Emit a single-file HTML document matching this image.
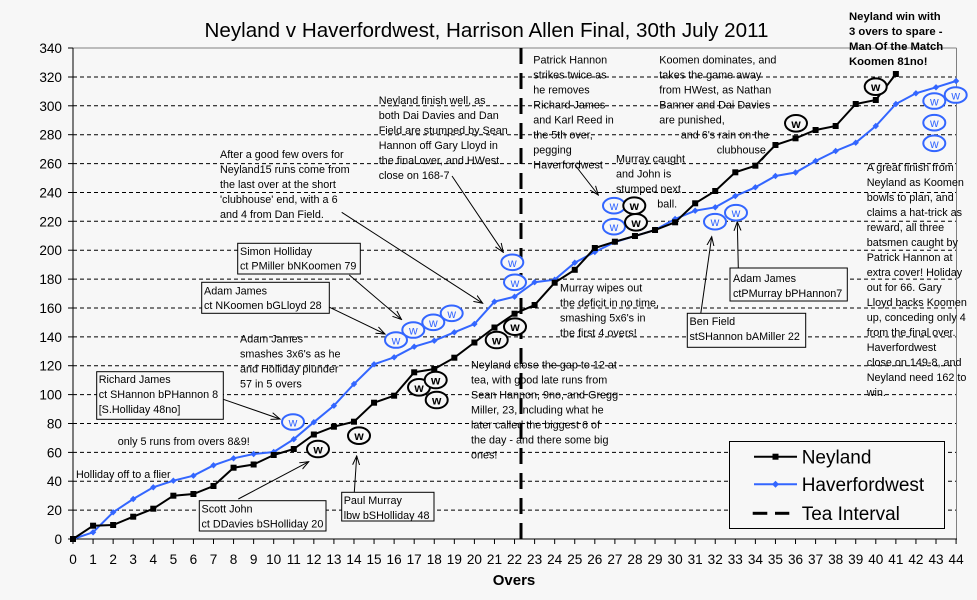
<!DOCTYPE html>
<html><head><meta charset="utf-8">
<style>
html,body{margin:0;padding:0;background:#f7f7f7;}
svg{display:block;font-family:"Liberation Sans",Arial,sans-serif;}
.a{font-size:10.8px;fill:#000;}
.t{font-size:13.6px;fill:#000;}
</style></head><body>
<svg width="977" height="600" viewBox="0 0 977 600" xmlns="http://www.w3.org/2000/svg">
<defs>
<marker id="sq" markerWidth="8" markerHeight="8" refX="4" refY="4" markerUnits="userSpaceOnUse"><rect x="1" y="1" width="6" height="6" fill="#000"/></marker>
<marker id="dm" markerWidth="8" markerHeight="8" refX="4" refY="4" markerUnits="userSpaceOnUse"><path d="M4,0.8 L7.2,4 L4,7.2 L0.8,4Z" fill="#3366ff"/></marker>
<marker id="ar" markerWidth="10" markerHeight="10" refX="9" refY="5" orient="auto" markerUnits="userSpaceOnUse"><path d="M0,1.5 L9,5 L0,8.5" fill="none" stroke="#000" stroke-width="1"/></marker>
</defs>
<rect width="977" height="600" fill="#f7f7f7"/>
<!-- title -->
<text x="486.5" y="37" font-size="20.6" text-anchor="middle">Neyland v Haverfordwest, Harrison Allen Final, 30th July 2011</text>
<!-- gridlines -->
<g stroke="#000" stroke-width="1" stroke-dasharray="4 3">
<line x1="73" y1="510.1" x2="956" y2="510.1"/>
<line x1="73" y1="481.2" x2="956" y2="481.2"/>
<line x1="73" y1="452.4" x2="956" y2="452.4"/>
<line x1="73" y1="423.5" x2="956" y2="423.5"/>
<line x1="73" y1="394.6" x2="956" y2="394.6"/>
<line x1="73" y1="365.7" x2="956" y2="365.7"/>
<line x1="73" y1="336.9" x2="956" y2="336.9"/>
<line x1="73" y1="308" x2="956" y2="308"/>
<line x1="73" y1="279.1" x2="956" y2="279.1"/>
<line x1="73" y1="250.2" x2="956" y2="250.2"/>
<line x1="73" y1="221.3" x2="956" y2="221.3"/>
<line x1="73" y1="192.5" x2="956" y2="192.5"/>
<line x1="73" y1="163.6" x2="956" y2="163.6"/>
<line x1="73" y1="134.7" x2="956" y2="134.7"/>
<line x1="73" y1="105.8" x2="956" y2="105.8"/>
<line x1="73" y1="77" x2="956" y2="77"/>
</g>
<!-- plot border -->
<line x1="73" y1="48" x2="956.5" y2="48" stroke="#808080" stroke-width="1"/>
<line x1="956.5" y1="48" x2="956.5" y2="539" stroke="#808080" stroke-width="1"/>
<!-- axes -->
<line x1="73" y1="48" x2="73" y2="539.5" stroke="#000" stroke-width="1"/>
<line x1="73" y1="539" x2="957" y2="539" stroke="#000" stroke-width="1"/>
<!-- y ticks -->
<g stroke="#000" stroke-width="1">
<line x1="68" y1="539" x2="73" y2="539"/><line x1="68" y1="510.1" x2="73" y2="510.1"/><line x1="68" y1="481.2" x2="73" y2="481.2"/><line x1="68" y1="452.4" x2="73" y2="452.4"/><line x1="68" y1="423.5" x2="73" y2="423.5"/><line x1="68" y1="394.6" x2="73" y2="394.6"/><line x1="68" y1="365.7" x2="73" y2="365.7"/><line x1="68" y1="336.9" x2="73" y2="336.9"/><line x1="68" y1="308" x2="73" y2="308"/><line x1="68" y1="279.1" x2="73" y2="279.1"/><line x1="68" y1="250.2" x2="73" y2="250.2"/><line x1="68" y1="221.3" x2="73" y2="221.3"/><line x1="68" y1="192.5" x2="73" y2="192.5"/><line x1="68" y1="163.6" x2="73" y2="163.6"/><line x1="68" y1="134.7" x2="73" y2="134.7"/><line x1="68" y1="105.8" x2="73" y2="105.8"/><line x1="68" y1="77" x2="73" y2="77"/><line x1="68" y1="48" x2="73" y2="48"/>
</g>
<g class="t" text-anchor="end">
<text x="62" y="544">0</text><text x="62" y="515.1">20</text><text x="62" y="486.2">40</text><text x="62" y="457.4">60</text><text x="62" y="428.5">80</text><text x="62" y="399.6">100</text><text x="62" y="370.7">120</text><text x="62" y="341.9">140</text><text x="62" y="313">160</text><text x="62" y="284.1">180</text><text x="62" y="255.2">200</text><text x="62" y="226.3">220</text><text x="62" y="197.5">240</text><text x="62" y="168.6">260</text><text x="62" y="139.7">280</text><text x="62" y="110.8">300</text><text x="62" y="82">320</text><text x="62" y="53">340</text>
</g>
<!-- x ticks -->
<g stroke="#000" stroke-width="1">
<line x1="73" y1="539" x2="73" y2="544"/><line x1="93.07" y1="539" x2="93.07" y2="544"/><line x1="113.14" y1="539" x2="113.14" y2="544"/><line x1="133.21" y1="539" x2="133.21" y2="544"/><line x1="153.28" y1="539" x2="153.28" y2="544"/><line x1="173.35" y1="539" x2="173.35" y2="544"/><line x1="193.42" y1="539" x2="193.42" y2="544"/><line x1="213.49" y1="539" x2="213.49" y2="544"/><line x1="233.56" y1="539" x2="233.56" y2="544"/><line x1="253.63" y1="539" x2="253.63" y2="544"/><line x1="273.7" y1="539" x2="273.7" y2="544"/><line x1="293.77" y1="539" x2="293.77" y2="544"/><line x1="313.84" y1="539" x2="313.84" y2="544"/><line x1="333.91" y1="539" x2="333.91" y2="544"/><line x1="353.98" y1="539" x2="353.98" y2="544"/><line x1="374.05" y1="539" x2="374.05" y2="544"/><line x1="394.12" y1="539" x2="394.12" y2="544"/><line x1="414.19" y1="539" x2="414.19" y2="544"/><line x1="434.26" y1="539" x2="434.26" y2="544"/><line x1="454.33" y1="539" x2="454.33" y2="544"/><line x1="474.4" y1="539" x2="474.4" y2="544"/><line x1="494.47" y1="539" x2="494.47" y2="544"/><line x1="514.54" y1="539" x2="514.54" y2="544"/><line x1="534.61" y1="539" x2="534.61" y2="544"/><line x1="554.68" y1="539" x2="554.68" y2="544"/><line x1="574.75" y1="539" x2="574.75" y2="544"/><line x1="594.82" y1="539" x2="594.82" y2="544"/><line x1="614.89" y1="539" x2="614.89" y2="544"/><line x1="634.96" y1="539" x2="634.96" y2="544"/><line x1="655.03" y1="539" x2="655.03" y2="544"/><line x1="675.1" y1="539" x2="675.1" y2="544"/><line x1="695.17" y1="539" x2="695.17" y2="544"/><line x1="715.24" y1="539" x2="715.24" y2="544"/><line x1="735.31" y1="539" x2="735.31" y2="544"/><line x1="755.38" y1="539" x2="755.38" y2="544"/><line x1="775.45" y1="539" x2="775.45" y2="544"/><line x1="795.52" y1="539" x2="795.52" y2="544"/><line x1="815.59" y1="539" x2="815.59" y2="544"/><line x1="835.66" y1="539" x2="835.66" y2="544"/><line x1="855.73" y1="539" x2="855.73" y2="544"/><line x1="875.8" y1="539" x2="875.8" y2="544"/><line x1="895.87" y1="539" x2="895.87" y2="544"/><line x1="915.94" y1="539" x2="915.94" y2="544"/><line x1="936.01" y1="539" x2="936.01" y2="544"/><line x1="956.08" y1="539" x2="956.08" y2="544"/>
</g>
<g class="t" text-anchor="middle">
<text x="73" y="564">0</text><text x="93.07" y="564">1</text><text x="113.14" y="564">2</text><text x="133.21" y="564">3</text><text x="153.28" y="564">4</text><text x="173.35" y="564">5</text><text x="193.42" y="564">6</text><text x="213.49" y="564">7</text><text x="233.56" y="564">8</text><text x="253.63" y="564">9</text><text x="273.7" y="564">10</text><text x="293.77" y="564">11</text><text x="313.84" y="564">12</text><text x="333.91" y="564">13</text><text x="353.98" y="564">14</text><text x="374.05" y="564">15</text><text x="394.12" y="564">16</text><text x="414.19" y="564">17</text><text x="434.26" y="564">18</text><text x="454.33" y="564">19</text><text x="474.4" y="564">20</text><text x="494.47" y="564">21</text><text x="514.54" y="564">22</text><text x="534.61" y="564">23</text><text x="554.68" y="564">24</text><text x="574.75" y="564">25</text><text x="594.82" y="564">26</text><text x="614.89" y="564">27</text><text x="634.96" y="564">28</text><text x="655.03" y="564">29</text><text x="675.1" y="564">30</text><text x="695.17" y="564">31</text><text x="715.24" y="564">32</text><text x="735.31" y="564">33</text><text x="755.38" y="564">34</text><text x="775.45" y="564">35</text><text x="795.52" y="564">36</text><text x="815.59" y="564">37</text><text x="835.66" y="564">38</text><text x="855.73" y="564">39</text><text x="875.8" y="564">40</text><text x="895.87" y="564">41</text><text x="915.94" y="564">42</text><text x="936.01" y="564">43</text><text x="956.08" y="564">44</text>
</g>
<text x="514" y="585" font-size="15" font-weight="bold" text-anchor="middle">Overs</text>

<!-- unboxed annotations -->
<g class="a">
<text x="220" y="158"><tspan x="220">After a good few overs for</tspan><tspan x="220" dy="15">Neyland15 runs come from</tspan><tspan x="220" dy="15">the last over at the short</tspan><tspan x="220" dy="15">'clubhouse' end, with a 6</tspan><tspan x="220" dy="15">and 4 from Dan Field.</tspan></text>
<text x="378.7" y="104"><tspan x="378.7">Neyland finish well, as</tspan><tspan x="378.7" dy="15">both Dai Davies and Dan</tspan><tspan x="378.7" dy="15">Field are stumped by Sean</tspan><tspan x="378.7" dy="15">Hannon off Gary Lloyd in</tspan><tspan x="378.7" dy="15">the final over, and HWest</tspan><tspan x="378.7" dy="15">close on 168-7</tspan></text>
<text x="240" y="342.3"><tspan x="240">Adam James</tspan><tspan x="240" dy="15">smashes 3x6's as he</tspan><tspan x="240" dy="15">and Holliday plunder</tspan><tspan x="240" dy="15">57 in 5 overs</tspan></text>
<text x="117.7" y="445">only 5 runs from overs 8&amp;9!</text>
<text x="76" y="478">Holliday off to a flier</text>
<text x="471" y="368.3"><tspan x="471">Neyland close the gap to 12 at</tspan><tspan x="471" dy="15">tea, with good late runs from</tspan><tspan x="471" dy="15">Sean Hannon, 9no, and Gregg</tspan><tspan x="471" dy="15">Miller, 23, including what he</tspan><tspan x="471" dy="15">later called the biggest 6 of</tspan><tspan x="471" dy="15">the day - and there some big</tspan><tspan x="471" dy="15">ones!</tspan></text>
<text x="560" y="291.3"><tspan x="560">Murray wipes out</tspan><tspan x="560" dy="15">the deficit in no time,</tspan><tspan x="560" dy="15">smashing 5x6's in</tspan><tspan x="560" dy="15">the first 4 overs!</tspan></text>
<text x="533.3" y="63.3"><tspan x="533.3">Patrick Hannon</tspan><tspan x="533.3" dy="15">strikes twice as</tspan><tspan x="533.3" dy="15">he removes</tspan><tspan x="533.3" dy="15">Richard James</tspan><tspan x="533.3" dy="15">and Karl Reed in</tspan><tspan x="533.3" dy="15">the 5th over,</tspan><tspan x="533.3" dy="15">pegging</tspan><tspan x="533.3" dy="15">Haverfordwest</tspan></text>
<text x="659.3" y="63.3"><tspan x="659.3">Koomen dominates, and</tspan><tspan x="659.3" dy="15">takes the game away</tspan><tspan x="659.3" dy="15">from HWest, as Nathan</tspan><tspan x="659.3" dy="15">Banner and Dai Davies</tspan><tspan x="659.3" dy="15">are punished,</tspan></text>
<text x="680.7" y="138.3">and 6's rain on the</text>
<text x="716.7" y="153.3">clubhouse</text>
<text x="616" y="162.3"><tspan x="616">Murray caught</tspan><tspan x="616" dy="15">and John is</tspan><tspan x="616" dy="15">stumped next</tspan></text>
<text x="657.3" y="207.3">ball.</text>
<text x="866.7" y="171"><tspan x="866.7">A great finish from</tspan><tspan x="866.7" dy="15">Neyland as Koomen</tspan><tspan x="866.7" dy="15">bowls to plan, and</tspan><tspan x="866.7" dy="15">claims a hat-trick as</tspan><tspan x="866.7" dy="15">reward, all three</tspan><tspan x="866.7" dy="15">batsmen caught by</tspan><tspan x="866.7" dy="15">Patrick Hannon at</tspan><tspan x="866.7" dy="15">extra cover! Holiday</tspan><tspan x="866.7" dy="15">out for 66. Gary</tspan><tspan x="866.7" dy="15">Lloyd backs Koomen</tspan><tspan x="866.7" dy="15">up, conceding only 4</tspan><tspan x="866.7" dy="15">from the final over.</tspan><tspan x="866.7" dy="15">Haverfordwest</tspan><tspan x="866.7" dy="15">close on 149-8, and</tspan><tspan x="866.7" dy="15">Neyland need 162 to</tspan><tspan x="866.7" dy="15">win.</tspan></text>
</g>
<text x="849" y="20" font-size="11.3" font-weight="bold"><tspan x="849">Neyland win with</tspan><tspan x="849" dy="15">3 overs to spare -</tspan><tspan x="849" dy="15">Man Of the Match</tspan><tspan x="849" dy="15">Koomen 81no!</tspan></text>

<!-- arrows -->
<g stroke="#000" stroke-width="1" fill="none" marker-end="url(#ar)">
<line x1="341.7" y1="212.3" x2="482.7" y2="303.3"/>
<line x1="452" y1="176" x2="503.3" y2="252.3"/>
<line x1="349.3" y1="275" x2="401.5" y2="319.5"/>
<line x1="328.3" y1="306.7" x2="385" y2="334"/>
<line x1="223.3" y1="399.3" x2="280" y2="419"/>
<line x1="238.3" y1="499" x2="308.8" y2="461.7"/>
<line x1="354.3" y1="492.3" x2="356.7" y2="456"/>
<line x1="575" y1="165" x2="598.3" y2="195"/>
<line x1="700.7" y1="314" x2="711.7" y2="236.7"/>
<line x1="738.3" y1="268" x2="737.3" y2="221.7"/>
</g>
<line x1="762" y1="160" x2="776.7" y2="143.3" stroke="#000" stroke-width="1"/>

<!-- series -->
<polyline fill="none" stroke="#3366ff" stroke-width="2" marker-start="url(#dm)" marker-mid="url(#dm)" marker-end="url(#dm)" points="73,539 93.07,532.3 113.14,512.3 133.21,499 153.28,487.3 173.35,480.7 193.42,475.7 213.49,465.3 233.56,458.3 253.63,454 273.7,452 293.77,439.2 313.84,422.2 333.91,405.7 353.98,384 374.05,364.3 394.12,357.3 414.19,346.7 434.26,340.7 454.33,332.3 474.4,324 494.47,301.7 514.54,296.7 534.61,282.2 554.68,279.7 574.75,262.7 594.82,252 614.89,242 634.96,236 655.03,230 675.1,219 695.17,210.7 715.24,207.3 735.31,196 755.38,187.3 775.45,176 795.52,172.5 815.59,161 835.66,151 855.73,142.7 875.8,126 895.87,104 915.94,93.3 936.01,87.3 956.08,81"/>
<polyline fill="none" stroke="#000" stroke-width="2" marker-start="url(#sq)" marker-mid="url(#sq)" marker-end="url(#sq)" points="73,539 93.07,525.7 113.14,525 133.21,516.7 153.28,508.7 173.35,495.7 193.42,494 213.49,486 233.56,467.7 253.63,464.5 273.7,455 293.77,449 313.84,434.5 333.91,426.7 353.98,421.7 374.05,402.7 394.12,395.7 414.19,372.3 434.26,369 454.33,357.7 474.4,342.5 494.47,327.5 514.54,313.7 534.61,305 554.68,282.7 574.75,269.8 594.82,248 614.89,241.7 634.96,236 655.03,230 675.1,222.3 695.17,203.3 715.24,191 735.31,172.3 755.38,165.7 775.45,145 795.52,138.3 815.59,130 835.66,126 855.73,104 875.8,100 895.87,74"/>
<!-- tea interval -->
<line x1="521" y1="48" x2="521" y2="539" stroke="#000" stroke-width="3" stroke-dasharray="16 9"/>

<!-- boxed annotations -->
<g fill="#f7f7f7" stroke="#000" stroke-width="1">
<rect x="237.7" y="243.3" width="122.6" height="30.7"/>
<rect x="201.7" y="282.3" width="127.6" height="31"/>
<rect x="96.7" y="371.7" width="126.6" height="47.6"/>
<rect x="199.3" y="500.7" width="126.7" height="30.3"/>
<rect x="341.7" y="492.3" width="92.3" height="28.7"/>
<rect x="687.3" y="313.3" width="118.4" height="34"/>
<rect x="730" y="268" width="117.3" height="33"/>
</g>
<g class="a">
<text x="240" y="255"><tspan x="240">Simon Holliday</tspan><tspan x="240" dy="14.7">ct PMiller bNKoomen 79</tspan></text>
<text x="204" y="294.3"><tspan x="204">Adam James</tspan><tspan x="204" dy="14.7">ct NKoomen bGLloyd 28</tspan></text>
<text x="98.7" y="383"><tspan x="98.7">Richard James</tspan><tspan x="98.7" dy="15">ct SHannon bPHannon 8</tspan><tspan x="98.7" dy="15">[S.Holliday 48no]</tspan></text>
<text x="201.5" y="512.3"><tspan x="201.5">Scott John</tspan><tspan x="201.5" dy="15">ct DDavies bSHolliday 20</tspan></text>
<text x="343.7" y="504"><tspan x="343.7">Paul Murray</tspan><tspan x="343.7" dy="15">lbw bSHolliday 48</tspan></text>
<text x="689.5" y="325"><tspan x="689.5">Ben Field</tspan><tspan x="689.5" dy="15">stSHannon bAMiller 22</tspan></text>
<text x="733" y="282"><tspan x="733">Adam James</tspan><tspan x="733" dy="15">ctPMurray bPHannon7</tspan></text>
</g>

<!-- wicket markers blue -->
<g fill="#f7f7f7" stroke="#3366ff" stroke-width="2">
<ellipse cx="293" cy="422" rx="11" ry="7.8"/>
<ellipse cx="396" cy="340" rx="11" ry="7.8"/>
<ellipse cx="413.3" cy="330" rx="11" ry="7.8"/>
<ellipse cx="433.3" cy="322.3" rx="11" ry="7.8"/>
<ellipse cx="451.7" cy="313.3" rx="11" ry="7.8"/>
<ellipse cx="512.3" cy="262.3" rx="11" ry="7.8"/>
<ellipse cx="515" cy="282.3" rx="11" ry="7.8"/>
<ellipse cx="614" cy="205.7" rx="11" ry="7.8"/>
<ellipse cx="614" cy="226.7" rx="11" ry="7.8"/>
<ellipse cx="715" cy="221.7" rx="11" ry="7.8"/>
<ellipse cx="736" cy="212.7" rx="11" ry="7.8"/>
<ellipse cx="934.3" cy="101" rx="11" ry="7.8"/>
<ellipse cx="934.3" cy="122.7" rx="11" ry="7.8"/>
<ellipse cx="934.3" cy="143.3" rx="11" ry="7.8"/>
<ellipse cx="955.7" cy="95" rx="11" ry="7.8"/>
</g>
<g fill="#3366ff" font-size="12" text-anchor="middle">
<text x="293" y="426.5">w</text><text x="396" y="344.5">w</text><text x="413.3" y="334.5">w</text><text x="433.3" y="326.8">w</text><text x="451.7" y="317.8">w</text><text x="512.3" y="266.8">w</text><text x="515" y="286.8">w</text><text x="614" y="210.2">w</text><text x="614" y="231.2">w</text><text x="715" y="226.2">w</text><text x="736" y="217.2">w</text><text x="934.3" y="105.5">w</text><text x="934.3" y="127.2">w</text><text x="934.3" y="147.8">w</text><text x="955.7" y="99.5">w</text>
</g>
<!-- wicket markers black -->
<g fill="#f7f7f7" stroke="#000" stroke-width="2">
<ellipse cx="318" cy="449" rx="11" ry="8.3"/>
<ellipse cx="359" cy="435.7" rx="11" ry="8.3"/>
<ellipse cx="419" cy="387.3" rx="11" ry="8.3"/>
<ellipse cx="435.7" cy="380" rx="11" ry="8.3"/>
<ellipse cx="436.7" cy="400" rx="11" ry="8.3"/>
<ellipse cx="496.7" cy="340" rx="11" ry="8.3"/>
<ellipse cx="515" cy="326.7" rx="11" ry="8.3"/>
<ellipse cx="634.3" cy="205.7" rx="11" ry="8.3"/>
<ellipse cx="636" cy="222.3" rx="11" ry="8.3"/>
<ellipse cx="796" cy="123.3" rx="11" ry="8.3"/>
<ellipse cx="875.7" cy="86.7" rx="11" ry="8.3"/>
</g>
<g fill="#000" font-size="12" font-weight="bold" text-anchor="middle">
<text x="318" y="453.5">w</text><text x="359" y="440.2">w</text><text x="419" y="391.8">w</text><text x="435.7" y="384.5">w</text><text x="436.7" y="404.5">w</text><text x="496.7" y="344.5">w</text><text x="515" y="331.2">w</text><text x="634.3" y="210.2">w</text><text x="636" y="226.8">w</text><text x="796" y="127.8">w</text><text x="875.7" y="91.2">w</text>
</g>

<!-- legend -->
<rect x="729.5" y="441.5" width="215" height="87" fill="#f7f7f7" stroke="#000" stroke-width="1"/>
<line x1="754" y1="456.7" x2="797" y2="456.7" stroke="#000" stroke-width="2"/>
<rect x="772.5" y="453.7" width="6" height="6" fill="#000"/>
<line x1="754" y1="484.3" x2="797" y2="484.3" stroke="#3366ff" stroke-width="2"/>
<path d="M775.5,480.8 L779,484.3 L775.5,487.8 L772,484.3Z" fill="#3366ff"/>
<line x1="752.7" y1="513.3" x2="767.3" y2="513.3" stroke="#000" stroke-width="3"/>
<line x1="775" y1="513.3" x2="789.3" y2="513.3" stroke="#000" stroke-width="3"/>
<g font-size="19">
<text x="801.7" y="463.5">Neyland</text>
<text x="801.7" y="491">Haverfordwest</text>
<text x="801.7" y="520">Tea Interval</text>
</g>
</svg>
</body></html>
